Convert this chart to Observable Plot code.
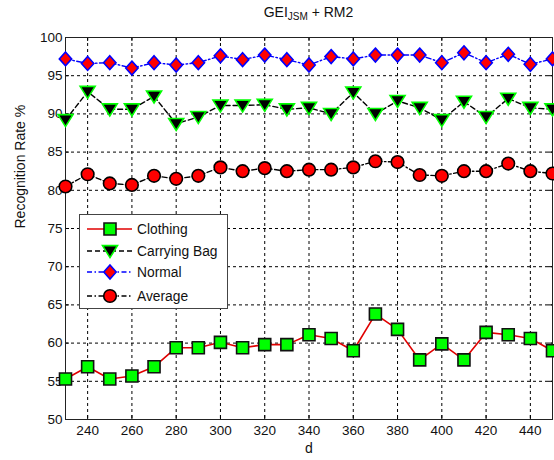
<!DOCTYPE html>
<html>
<head>
<meta charset="utf-8">
<script src="https://cdn.jsdelivr.net/npm/d3@7"></script>
<script src="https://cdn.jsdelivr.net/npm/@observablehq/plot@0.6"></script>
<style>
  html, body { margin: 0; padding: 0; background: #fff; }
  #wrap { position: relative; width: 554px; height: 460px; font-family: "Liberation Sans", Arial, sans-serif; }
  #title { position: absolute; left: 65px; width: 487px; top: 4px; text-align: center; font-size: 14px; color: #111; }
  #title sub { font-size: 10px; vertical-align: -3px; }
  #legend { position: absolute; left: 79px; top: 214px; }
</style>
</head>
<body>
<div id="wrap">
  <div id="title">GEI<sub>JSM</sub> + RM2</div>
</div>
<script>
const dValues = [230, 240, 250, 260, 270, 280, 290, 300, 310, 320, 330, 340, 350, 360, 370, 380, 390, 400, 410, 420, 430, 440, 450];
const clothing = [55.3, 56.9, 55.3, 55.7, 56.9, 59.4, 59.4, 60.1, 59.4, 59.8, 59.8, 61.1, 60.6, 59.0, 63.8, 61.8, 57.8, 59.9, 57.8, 61.4, 61.1, 60.6, 59.0];
const carryingBag = [89.2, 92.9, 90.6, 90.6, 92.3, 88.7, 89.6, 91.1, 91.1, 91.2, 90.6, 90.8, 90.0, 92.8, 90.0, 91.7, 90.8, 89.2, 91.6, 89.6, 92.0, 90.8, 90.6];
const normal = [97.2, 96.6, 96.7, 96.0, 96.7, 96.4, 96.7, 97.6, 97.1, 97.7, 97.1, 96.4, 97.5, 97.2, 97.7, 97.7, 97.7, 96.7, 98.0, 96.7, 97.8, 96.5, 97.2];
const average = [80.5, 82.1, 80.9, 80.7, 81.9, 81.5, 81.9, 83.0, 82.5, 82.9, 82.5, 82.7, 82.7, 83.0, 83.8, 83.7, 82.0, 81.9, 82.5, 82.5, 83.5, 82.5, 82.2];
const xTicks = [240, 260, 280, 300, 320, 340, 360, 380, 400, 420, 440];
const yTicks = [50, 55, 60, 65, 70, 75, 80, 85, 90, 95, 100];
const seriesNames = ["Clothing", "Carrying Bag", "Normal", "Average"];

// custom symbols (r = sqrt(size/PI))
const symSquare = { draw(ctx, size) { const r = Math.sqrt(size / Math.PI); ctx.rect(-r, -r, 2 * r, 2 * r); } };
const symDiamond = { draw(ctx, size) { const r = Math.sqrt(size / Math.PI); ctx.moveTo(0, -r * 1.12); ctx.lineTo(r, 0); ctx.lineTo(0, r * 1.12); ctx.lineTo(-r, 0); ctx.closePath(); } };
const symTriDown = { draw(ctx, size) { const r = Math.sqrt(size / Math.PI); ctx.moveTo(-r, -r * 0.72); ctx.lineTo(r, -r * 0.72); ctx.lineTo(0, r * 0.88); ctx.closePath(); } };
const symCircle = { draw(ctx, size) { const r = Math.sqrt(size / Math.PI); ctx.moveTo(r, 0); ctx.arc(0, 0, r, 0, 2 * Math.PI); } };

const styles = [
  { name: seriesNames[0], values: clothing, line: "#e00000", dash: null, lw: 1.6, sym: symSquare, r: 6, fill: "#00ff00", mstroke: "#111", mw: 1.6 },
  { name: seriesNames[1], values: carryingBag, line: "#000", dash: "5,3", lw: 1.4, sym: symTriDown, r: 7.5, fill: "#000", mstroke: "#00ff00", mw: 1.6 },
  { name: seriesNames[2], values: normal, line: "#0000ff", dash: "5,2.5,1.5,2.5", lw: 1.4, sym: symDiamond, r: 6.2, fill: "#ff0000", mstroke: "#0000ff", mw: 1.6 },
  { name: seriesNames[3], values: average, line: "#000", dash: "5,2.5,1.5,2.5", lw: 1.4, sym: symCircle, r: 6.3, fill: "#ff0000", mstroke: "#000", mw: 1.6 }
];

const marks = [
  Plot.gridX(xTicks, { stroke: "#000", strokeOpacity: 1, strokeWidth: 1, strokeDasharray: "3,3" }),
  Plot.gridY(yTicks, { stroke: "#000", strokeOpacity: 1, strokeWidth: 1, strokeDasharray: "3,3" }),
  Plot.tickX(xTicks, { x: d => d, stroke: "#000", insetTop: 378 }),
  Plot.tickX(xTicks, { x: d => d, stroke: "#000", insetBottom: 378 }),
  Plot.tickY(yTicks, { y: d => d, stroke: "#000", insetLeft: 483 }),
  Plot.tickY(yTicks, { y: d => d, stroke: "#000", insetRight: 483 }),
  Plot.axisX(xTicks, { tickSize: 0, tickPadding: 6, fontSize: 13.5, label: null }),
  Plot.axisY(yTicks, { tickSize: 0, tickPadding: 3, fontSize: 13.5, label: null }),
  Plot.frame({ stroke: "#222", strokeWidth: 1 })
];

for (const s of styles) {
  const rows = dValues.map((d, i) => ({ d, v: s.values[i] }));
  marks.push(Plot.line(rows, { x: "d", y: "v", stroke: s.line, strokeWidth: s.lw, strokeDasharray: s.dash || undefined }));
}
for (const s of styles) {
  const rows = dValues.map((d, i) => ({ d, v: s.values[i] }));
  marks.push(Plot.dot(rows, { x: "d", y: "v", symbol: () => s.sym, r: s.r, fill: s.fill, stroke: s.mstroke, strokeWidth: s.mw }));
}

// axis titles
marks.push(Plot.text(["d"], { frameAnchor: "bottom", dy: 33, fontSize: 14, fill: "#111", text: d => d }));
marks.push(Plot.text(["Recognition Rate %"], { frameAnchor: "left", dx: -45, rotate: -90, fontSize: 14, fill: "#111", text: d => d }));

const chart = Plot.plot({
  width: 554,
  height: 460,
  marginLeft: 65,
  marginRight: 2,
  marginTop: 37,
  marginBottom: 41,
  style: { fontFamily: "'Liberation Sans', Arial, sans-serif", fontSize: "13.5px", color: "#111", background: "#fff" },
  x: { domain: [230, 450] },
  y: { domain: [50, 100] },
  symbol: { type: "identity" },
  marks
});
document.getElementById("wrap").appendChild(chart);

// legend (inside plot, upper-left)
const lw = 149, lh = 95;
const leg = d3.select("#wrap").append("svg").attr("id", "legend").attr("width", lw).attr("height", lh);
leg.append("rect").attr("x", 0.5).attr("y", 0.5).attr("width", lw - 1).attr("height", lh - 1).attr("fill", "#fff").attr("stroke", "#444").attr("stroke-width", 1);
const rowY = [15, 37, 58, 82];
styles.forEach((s, i) => {
  const g = leg.append("g").attr("transform", `translate(0,${rowY[i]})`);
  g.append("line").attr("x1", 8).attr("x2", 53).attr("y1", 0).attr("y2", 0)
    .attr("stroke", s.line).attr("stroke-width", s.lw).attr("stroke-dasharray", s.dash || null);
  g.append("path").attr("transform", "translate(31,0)")
    .attr("d", d3.symbol(s.sym, s.r * s.r * Math.PI)())
    .attr("fill", s.fill).attr("stroke", s.mstroke).attr("stroke-width", s.mw);
  g.append("text").attr("x", 58).attr("y", 5).attr("font-size", 13.8).attr("fill", "#111")
    .attr("font-family", "'Liberation Sans', Arial, sans-serif").text(s.name);
});
</script>
</body>
</html>
